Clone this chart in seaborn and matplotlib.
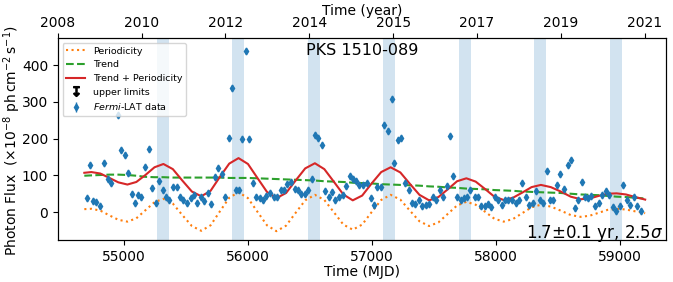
import numpy as np
import matplotlib
matplotlib.use('Agg')
import matplotlib.pyplot as plt
from matplotlib.lines import Line2D
import seaborn as sns

# Fermi-LAT light curve (MJD, flux in 1e-8 ph cm^-2 s^-1)
mjd = [54705, 54732, 54753, 54777, 54812, 54841, 54871, 54895, 54954, 54978,
       55008, 55035, 55064, 55091, 55118, 55142, 55174, 55201, 55231, 55260,
       55287, 55314, 55340, 55368, 55400, 55427, 55453, 55480, 55507, 55539,
       55566, 55593, 55622, 55649, 55676, 55706, 55732, 55762, 55789, 55815,
       55845, 55870, 55905, 55930, 55955, 55982, 56010, 56041, 56068, 56095,
       56121, 56148, 56175, 56207, 56234, 56264, 56291, 56318, 56344, 56376,
       56403, 56430, 56457, 56484, 56513, 56543, 56569, 56596, 56623, 56650,
       56677, 56704, 56731, 56763, 56790, 56819, 56846, 56873, 56899, 56929,
       56956, 56988, 57015, 57042, 57069, 57098, 57125, 57161, 57181, 57208,
       57237, 57264, 57294, 57320, 57345, 57377, 57404, 57431, 57457, 57490,
       57517, 57546, 57570, 57600, 57626, 57654, 57686, 57713, 57740, 57767,
       57793, 57828, 57855, 57881, 57908, 57935, 57962, 57989, 58016, 58043,
       58072, 58099, 58125, 58158, 58185, 58211, 58238, 58268, 58295, 58322,
       58351, 58378, 58407, 58435, 58461, 58488, 58518, 58545, 58575, 58604,
       58631, 58658, 58688, 58715, 58742, 58767, 58799, 58826, 58856, 58883,
       58910, 58937, 58964, 58994, 59024, 59050, 59077, 59107, 59134, 59163]
flux = [37, 129, 30, 28, 17, 135, 90, 78, 265, 168,
        156, 106, 49, 26, 46, 41, 124, 172, 66, 25,
        84, 59, 41, 32, 68, 67, 40, 34, 25, 37,
        46, 25, 41, 31, 52, 21, 95, 120, 103, 40,
        202, 337, 61, 61, 198, 438, 198, 78, 40, 37,
        32, 43, 52, 41, 40, 59, 59, 76, 82, 64,
        59, 49, 49, 61, 89, 211, 201, 184, 58, 41,
        55, 34, 40, 46, 70, 97, 89, 86, 73, 73,
        78, 39, 19, 68, 68, 238, 222, 307, 133, 196,
        202, 80, 61, 25, 23, 34, 16, 19, 22, 41,
        34, 59, 41, 70, 206, 97, 40, 32, 37, 40,
        61, 40, 40, 16, 16, 22, 13, 41, 34, 19,
        34, 34, 34, 25, 34, 78, 41, 19, 25, 58,
        32, 25, 112, 34, 34, 73, 103, 64, 127, 141,
        10, 32, 82, 40, 38, 43, 16, 25, 46, 58,
        46, 13, 4, 16, 75, 34, 19, 40, 16, 4]
flux_err = 8

# model curves
t_model = [54683, 54740, 54812, 54885, 54957, 55030, 55102, 55175, 55248, 55320,
           55396, 55472, 55549, 55625, 55700, 55775, 55850, 55925, 56001, 56077,
           56154, 56230, 56308, 56385, 56462, 56540, 56616, 56692, 56769, 56845,
           56921, 56997, 57074, 57150, 57228, 57305, 57382, 57460, 57535, 57610,
           57685, 57760, 57835, 57910, 57985, 58060, 58135, 58210, 58285, 58360,
           58440, 58520, 58600, 58680, 58752, 58825, 58897, 58970, 59045, 59120,
           59200]
periodicity = [8, 9, 4, -9, -21, -26, -17, 5, 27, 36,
               23, -8, -38, -51, -36, 2, 39, 54, 38, 1,
               -36, -52, -37, -2, 32, 47, 33, 0, -34, -48,
               -34, 0, 33, 47, 34, 4, -25, -38, -28, -5,
               18, 28, 20, 1, -18, -26, -19, -3, 13, 20,
               15, 4, -8, -13, -10, -2, 6, 9, 7, 2,
               -3]
trend = [99, 100, 101, 102, 102, 101, 99, 96, 95, 95,
         94, 94, 94, 94, 94, 94, 93, 93, 93, 92,
         91, 90, 89, 88, 87, 86, 84, 83, 82, 80,
         79, 78, 76, 75, 74, 73, 72, 70, 69, 67,
         66, 64, 63, 62, 60, 59, 58, 56, 55, 54,
         53, 52, 50, 48, 47, 46, 44, 42, 41, 39,
         37]
trend_plus_period = list(np.array(trend) + np.array(periodicity))

# predicted flare epochs (shaded)
peak_times = [55316, 55924, 56532, 57139, 57748, 58355, 58962]
year_labels = ['2008', '2010', '2012', '2014', '2015', '2017', '2019', '2021']

fig, ax = plt.subplots(figsize=(6.73, 2.82), dpi=100)
fig.subplots_adjust(left=0.086, right=0.99, bottom=0.149, top=0.865)

for tp in peak_times:
    ax.axvspan(tp - 48, tp + 48, color='tab:blue', alpha=0.2, lw=0)

sns.lineplot(x=t_model, y=periodicity, ax=ax, color='tab:orange', linestyle=':',
             lw=1.5, label='Periodicity')
sns.lineplot(x=t_model, y=trend, ax=ax, color='tab:green', linestyle='--',
             lw=1.5, label='Trend')
sns.lineplot(x=t_model, y=trend_plus_period, ax=ax, color='tab:red', lw=1.5,
             label='Trend + Periodicity')

dat = ax.errorbar(mjd, flux, yerr=flux_err, fmt='d', color='tab:blue',
                  markersize=3.5, elinewidth=1, label=r'$\it{Fermi}$-LAT data')
ul = Line2D([], [], color='black', marker='$\u21a7$', markersize=7,
            linestyle='none')

ax.set_xlim(54470, 59370)
ax.set_ylim(-76, 474)
ax.set_xticks([55000, 56000, 57000, 58000, 59000])
ax.set_yticks([0, 100, 200, 300, 400])
ax.tick_params(labelsize=10)
ax.set_xlabel('Time (MJD)', fontsize=10, labelpad=1)
ax.set_ylabel(r'Photon Flux  $(\times10^{-8}\ \mathrm{ph\,cm^{-2}\,s^{-1}})$',
              fontsize=10)
ax.yaxis.set_label_coords(-0.058, 0.49)

handles, labels = ax.get_legend_handles_labels()
ax.legend(handles[:3] + [ul, dat], labels[:3] + ['upper limits', r'$\it{Fermi}$-LAT data'],
          loc='upper left', fontsize=6.8, framealpha=0.8)

ax.text(0.5, 0.975, 'PKS 1510-089', transform=ax.transAxes, ha='center',
        va='top', fontsize=11.5)
ax.text(0.995, 0.012, r'1.7$\pm$0.1 yr, 2.5$\sigma$', transform=ax.transAxes,
        ha='right', va='baseline', fontsize=12)

ax2 = ax.twiny()
ax2.set_xlim(ax.get_xlim())
x0 = ax.get_xlim()[0]
ax2.set_xticks([x0 + 675 * k for k in range(len(year_labels))])
ax2.set_xticklabels(year_labels)
ax2.tick_params(labelsize=10, pad=2)
ax2.set_xlabel('Time (year)', fontsize=10, labelpad=1)

fig.savefig('out.png', dpi=100)
